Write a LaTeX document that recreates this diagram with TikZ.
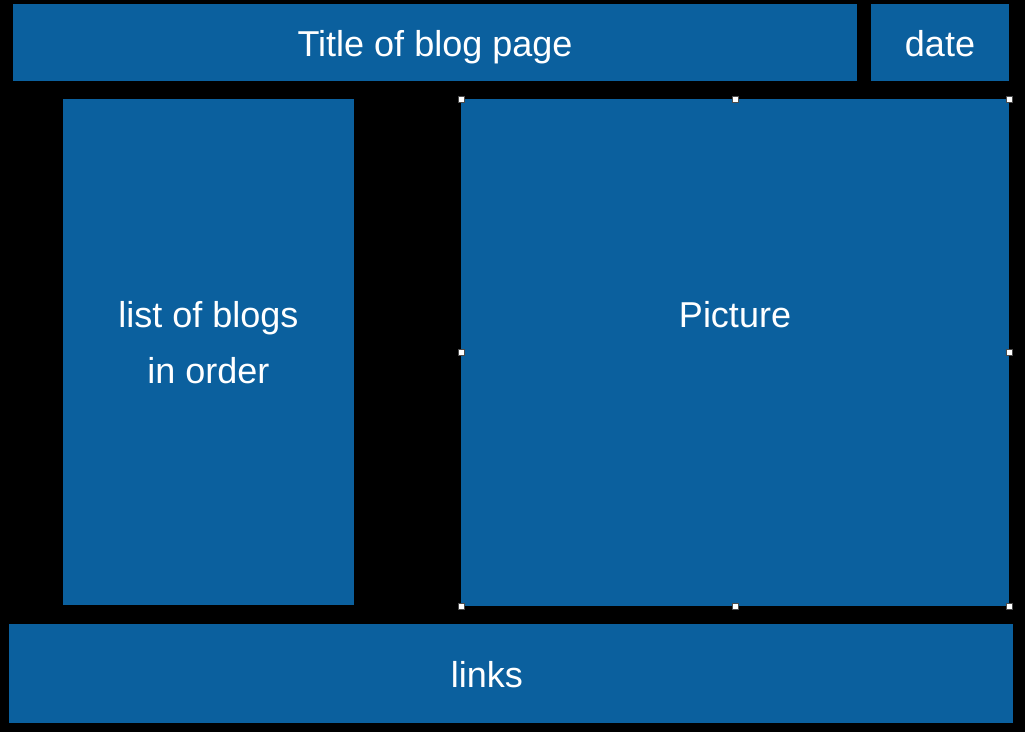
\documentclass[tikz,border=0pt]{standalone}
\usepackage{fontspec}
\setmainfont{Liberation Sans}
\definecolor{panelblue}{RGB}{11,96,158}
\begin{document}
\begin{tikzpicture}[x=1pt,y=-1pt,
  panel/.style={fill=panelblue, draw=none, inner sep=0pt},
  caption/.style={text=white, inner sep=0pt, anchor=base,
    font=\fontsize{36}{56}\selectfont},
  handle/.style={fill=white, draw=black!70, line width=0.6pt, inner sep=0pt,
    minimum size=6pt}]
  % page background
  \fill[black] (0,0) rectangle (1025,732);
  \useasboundingbox (0,0) rectangle (1025,732);
  % layout panels
  \node[panel, minimum width=844pt, minimum height=77pt] (title) at (435,42.5) {};
  \node[panel, minimum width=138pt, minimum height=77pt] (date) at (940,42.5) {};
  \node[panel, minimum width=291pt, minimum height=506pt] (list) at (208.5,352) {};
  \node[panel, minimum width=548pt, minimum height=507pt] (pic) at (735,352.5) {};
  \node[panel, minimum width=1004pt, minimum height=99pt] (links) at (511,673.5) {};
  % captions, set on their baselines
  \node[caption] (titletext) at (435,56) {Title of blog page};
  \node[caption] (datetext) at (940,56) {date};
  \node[caption] (listtext1) at (208.5,327) {list of blogs};
  \node[caption] (listtext2) at (208.5,383) {in order};
  \node[caption] (pictext) at (735,327) {Picture};
  \node[caption] (linkstext) at (487,687) {links};
  % selection handles on the picture panel
  \foreach \p [count=\i] in {north west,north,north east,west,east,south west,south,south east}
    \node[handle] (h\i) at (pic.\p) {};
\end{tikzpicture}
\end{document}
